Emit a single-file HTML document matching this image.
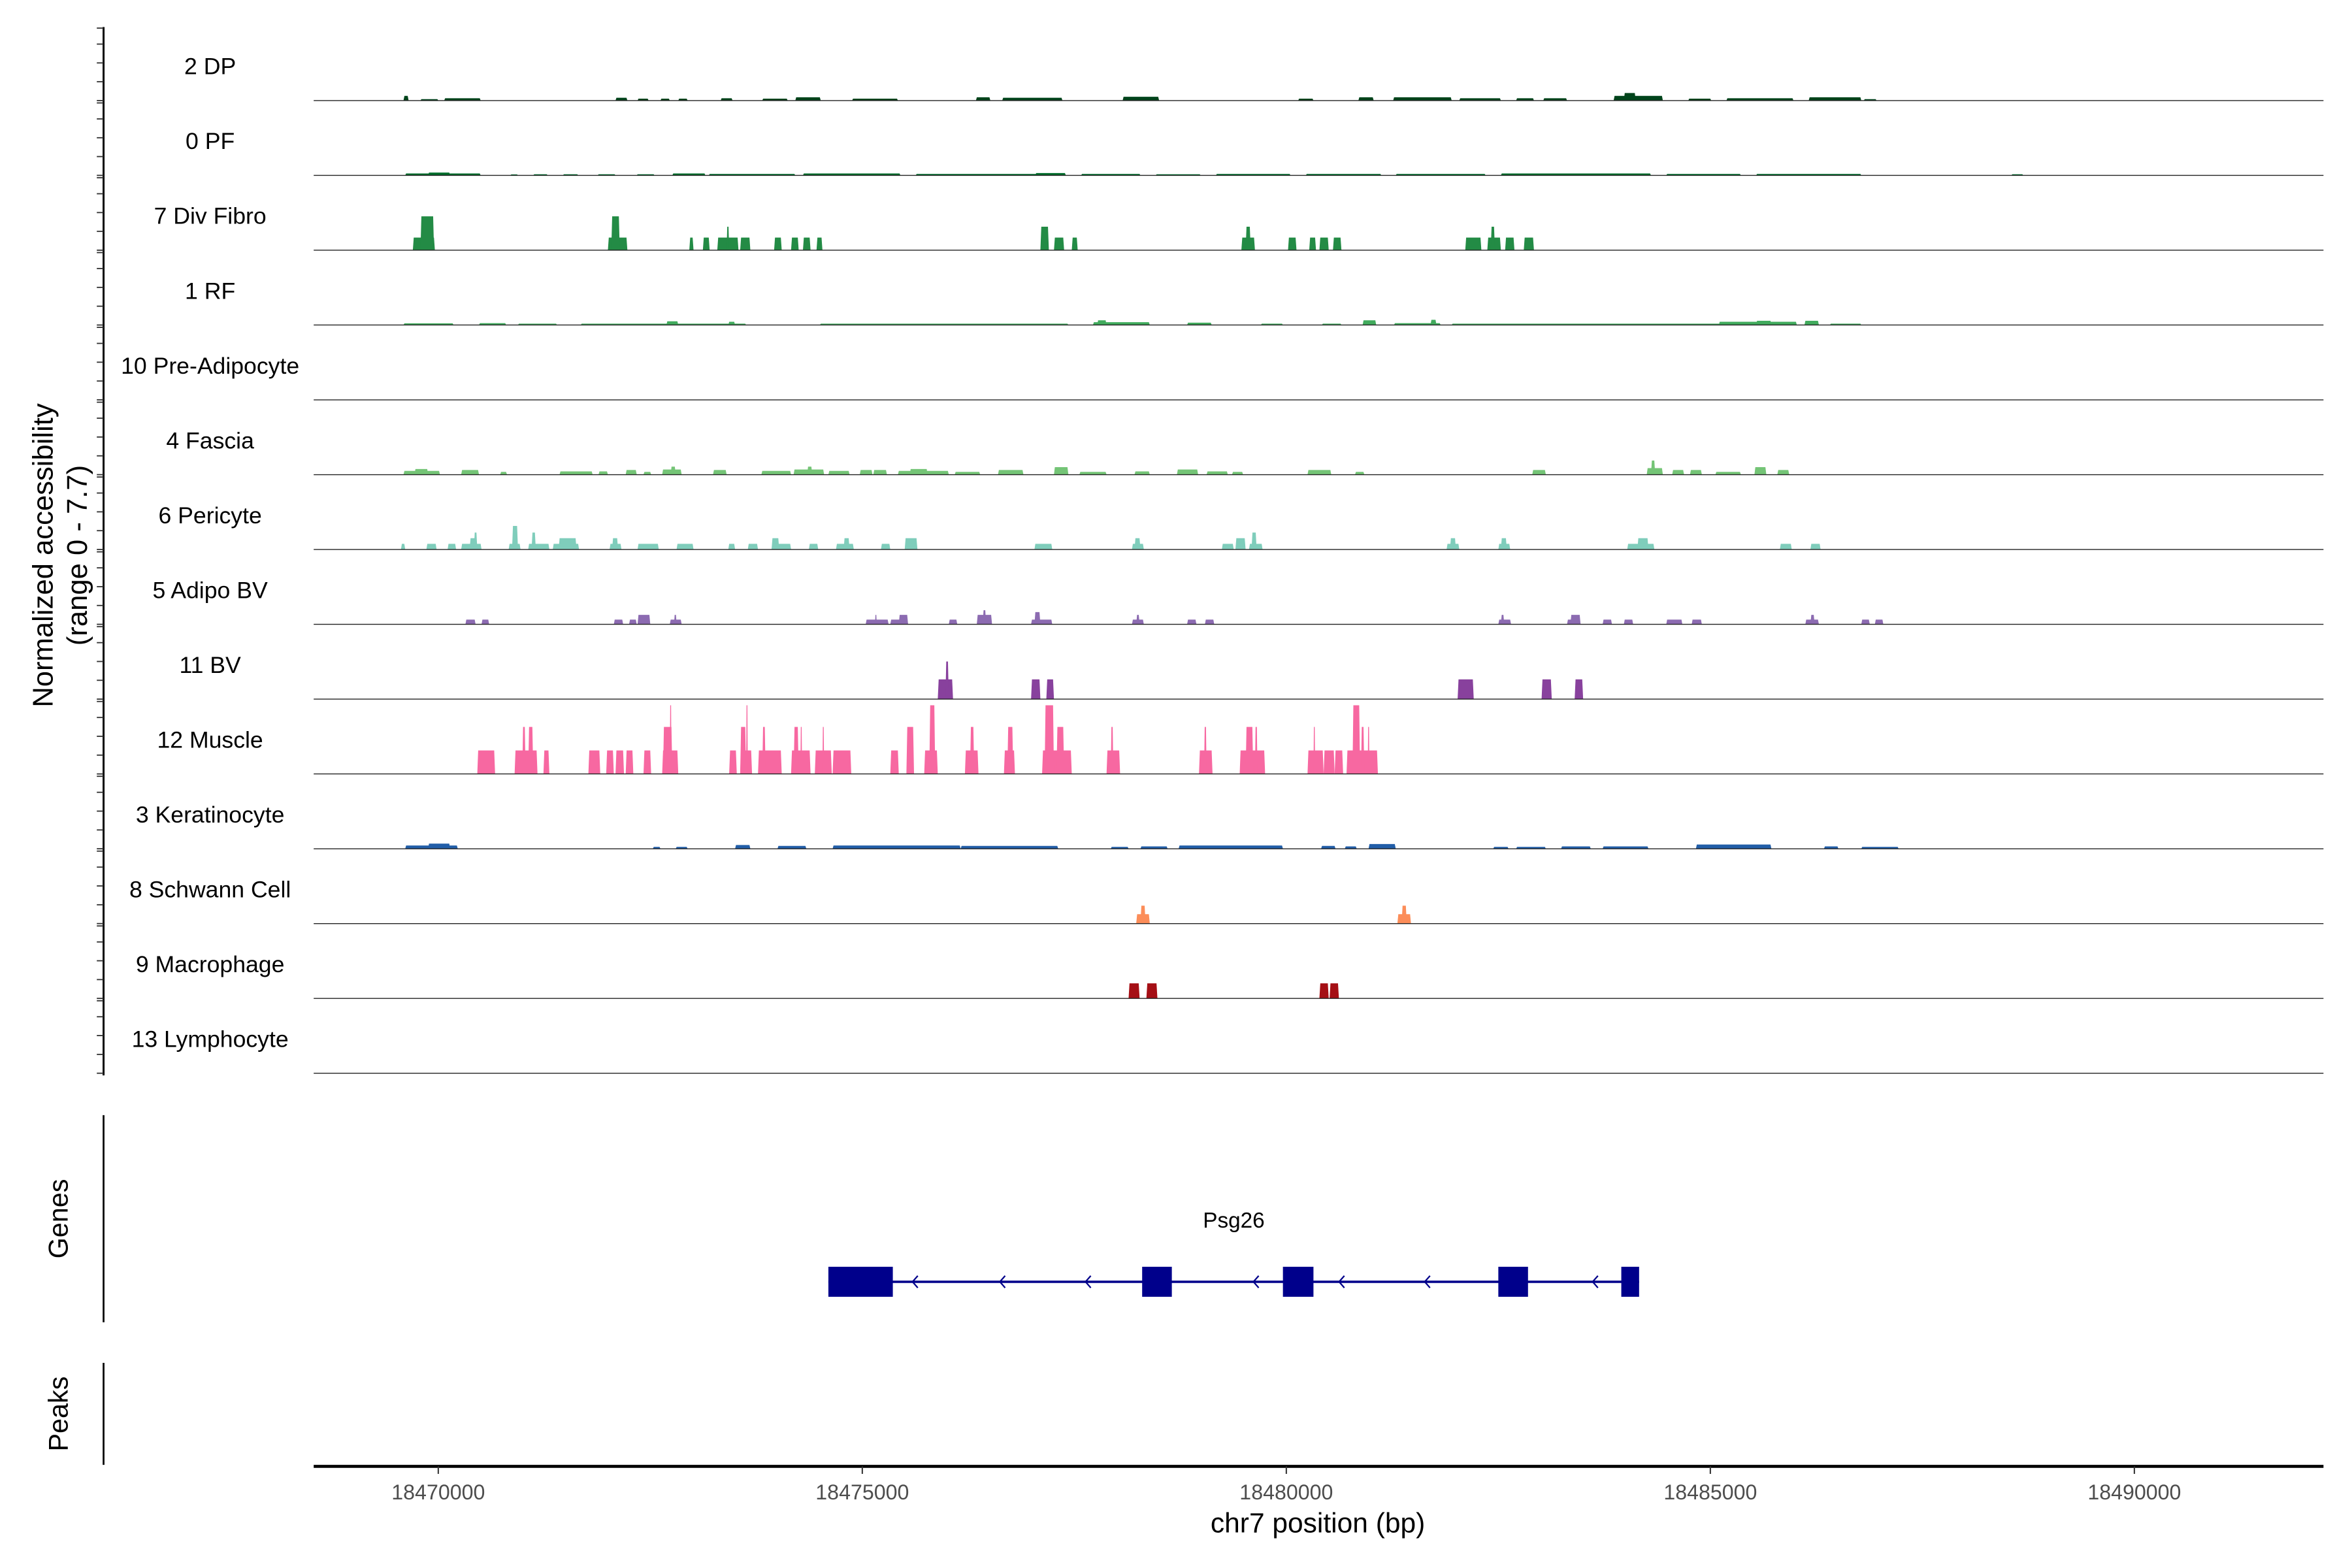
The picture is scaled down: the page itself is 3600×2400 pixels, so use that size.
<!DOCTYPE html>
<html><head><meta charset="utf-8"><style>
html,body{margin:0;padding:0;background:#fff;}
svg{display:block;font-family:"Liberation Sans",Arial,sans-serif;}
</style></head><body>
<svg id="chart" width="3600" height="2400" viewBox="0 0 1567 1044.7" preserveAspectRatio="none" xmlns="http://www.w3.org/2000/svg">
<g id="tracks"></g>
<g id="yaxis"></g>
<text transform="translate(35,370) rotate(-90)" text-anchor="middle" font-size="19" fill="#000">Normalized accessibility</text>
<text transform="translate(58,370) rotate(-90)" text-anchor="middle" font-size="19" fill="#000">(range 0 - 7.7)</text>
<line x1="69" y1="743" x2="69" y2="881" stroke="#000" stroke-width="1.2"/>
<text transform="translate(45,812) rotate(-90)" text-anchor="middle" font-size="18" fill="#000">Genes</text>
<line x1="69" y1="908" x2="69" y2="976" stroke="#000" stroke-width="1.2"/>
<text transform="translate(45,942) rotate(-90)" text-anchor="middle" font-size="18" fill="#000">Peaks</text>
<g id="gene"></g>
<g id="xaxis"></g>
<text x="878" y="1021" text-anchor="middle" font-size="18.5" fill="#000">chr7 position (bp)</text>
</svg>
<script>
// positions in kb offset from 18,470,000; values in normalized accessibility
const regionStart = 18470000;
const trackNames = ["2 DP","0 PF","7 Div Fibro","1 RF","10 Pre-Adipocyte","4 Fascia","6 Pericyte","5 Adipo BV","11 BV","12 Muscle","3 Keratinocyte","8 Schwann Cell","9 Macrophage","13 Lymphocyte"];
const trackColors = ["#00441b","#006d2c","#238b45","#41ab5d","#74c476","#74c476","#7fcdbb","#8c6bb1","#88419d","#f768a1","#225ea8","#fc8d59","#a50f15","#6a51a3"];
const xTicks = [18470000,18475000,18480000,18485000,18490000];
const yTickValues = [0,2,4,6,7.7];
const dpPeaks = [[-0.41,-0.35,0.5],[-0.21,0.0,0.15],[0.07,0.5,0.25],[2.09,2.23,0.3],[2.35,2.48,0.2],[2.62,2.73,0.2],[2.83,2.94,0.2],[3.33,3.47,0.25],[3.82,4.12,0.2],[4.21,4.51,0.35],[4.88,5.42,0.2],[6.34,6.51,0.35],[6.65,7.36,0.3],[8.07,8.5,0.4],[10.14,10.32,0.2],[10.85,11.03,0.35],[11.26,11.95,0.35],[12.04,12.53,0.25],[12.71,12.92,0.25],[13.03,13.31,0.25],[13.86,14.44,0.5],[13.98,14.12,0.8],[14.74,15.01,0.2],[15.19,15.98,0.25],[16.16,16.78,0.35],[16.81,16.96,0.15]];
const pfPeaks = [[-0.39,0.5,0.2],[-0.12,0.14,0.3],[0.85,0.94,0.1],[1.12,1.29,0.12],[1.47,1.65,0.12],[1.88,2.09,0.12],[2.34,2.55,0.12],[2.76,3.15,0.2],[3.19,4.21,0.15],[4.3,5.45,0.2],[5.63,7.22,0.15],[7.04,7.4,0.25],[7.58,8.28,0.15],[8.46,8.99,0.12],[9.17,10.05,0.15],[10.23,11.12,0.15],[11.29,12.35,0.15],[12.53,14.3,0.2],[14.48,15.36,0.15],[15.54,16.78,0.15],[18.55,18.69,0.12]];
const divFibroPeaks = [[-0.3,-0.04,1.34],[-0.21,-0.05,3.6],[2.0,2.23,1.34],[2.04,2.14,3.6],[2.96,3.01,1.34],[3.12,3.2,1.34],[3.29,3.54,1.34],[3.4,3.43,2.5],[3.56,3.68,1.34],[3.96,4.05,1.34],[4.16,4.25,1.34],[4.3,4.39,1.34],[4.46,4.53,1.34],[7.1,7.2,2.5],[7.26,7.38,1.34],[7.47,7.54,1.34],[9.47,9.63,1.34],[9.52,9.58,2.5],[10.02,10.12,1.34],[10.27,10.35,1.34],[10.39,10.5,1.34],[10.55,10.65,1.34],[12.11,12.3,1.34],[12.37,12.53,1.34],[12.41,12.46,2.5],[12.58,12.69,1.34],[12.8,12.92,1.34]];
const rfPeaks = [[-0.41,0.18,0.18],[0.48,0.8,0.2],[0.94,1.4,0.15],[1.68,3.63,0.15],[2.69,2.83,0.4],[3.42,3.5,0.35],[4.5,7.43,0.15],[7.72,8.39,0.3],[7.77,7.88,0.5],[8.83,9.12,0.25],[9.7,9.96,0.15],[10.42,10.65,0.15],[10.9,11.06,0.5],[11.27,11.82,0.2],[11.7,11.77,0.55],[11.95,16.02,0.15],[15.1,16.02,0.35],[15.54,15.72,0.45],[16.11,16.28,0.45],[16.41,16.78,0.15]];
const preAdipoPeaks = [];
const fasciaPeaks = [[-0.41,0.02,0.4],[-0.28,-0.12,0.6],[0.27,0.48,0.5],[0.73,0.81,0.3],[1.43,1.82,0.35],[1.89,2.0,0.35],[2.21,2.34,0.5],[2.42,2.51,0.3],[2.64,2.87,0.55],[2.74,2.8,0.85],[3.24,3.4,0.5],[3.81,4.16,0.4],[4.19,4.55,0.55],[4.35,4.41,0.85],[4.6,4.85,0.4],[4.97,5.12,0.5],[5.13,5.29,0.5],[5.42,6.02,0.4],[5.56,5.77,0.6],[6.09,6.39,0.3],[6.6,6.9,0.5],[7.26,7.43,0.8],[7.56,7.88,0.3],[8.21,8.39,0.35],[8.71,8.96,0.55],[9.06,9.31,0.35],[9.36,9.49,0.3],[10.25,10.53,0.5],[10.81,10.92,0.3],[12.9,13.06,0.5],[14.25,14.44,0.7],[14.3,14.35,1.5],[14.55,14.69,0.5],[14.76,14.9,0.5],[15.06,15.36,0.3],[15.52,15.66,0.8],[15.79,15.93,0.5]];
const pericytePeaks = [[-0.44,-0.39,0.6],[-0.14,-0.02,0.6],[0.11,0.21,0.6],[0.27,0.51,0.6],[0.37,0.46,1.2],[0.42,0.46,1.8],[0.83,0.97,0.6],[0.87,0.94,2.5],[1.06,1.31,0.6],[1.1,1.15,1.8],[1.35,1.66,0.6],[1.42,1.63,1.2],[2.02,2.16,0.6],[2.05,2.12,1.2],[2.35,2.6,0.6],[2.81,3.01,0.6],[3.42,3.5,0.6],[3.65,3.77,0.6],[3.93,4.16,0.6],[3.93,4.02,1.2],[4.37,4.48,0.6],[4.69,4.9,0.6],[4.78,4.85,1.2],[5.22,5.33,0.6],[5.5,5.65,1.2],[7.03,7.24,0.6],[8.18,8.32,0.6],[8.21,8.28,1.2],[9.24,9.38,0.6],[9.4,9.52,1.2],[9.56,9.72,0.6],[9.59,9.65,1.8],[11.89,12.04,0.6],[11.93,12.0,1.2],[12.5,12.64,0.6],[12.53,12.6,1.2],[14.02,14.34,0.6],[14.14,14.27,1.2],[15.82,15.96,0.6],[16.18,16.3,0.6]];
const adipoBvPeaks = [[0.32,0.44,0.5],[0.51,0.6,0.5],[2.07,2.18,0.5],[2.25,2.34,0.5],[2.35,2.5,1.0],[2.73,2.87,0.5],[2.78,2.81,1.0],[5.04,5.31,0.5],[5.15,5.17,1.0],[5.33,5.54,0.5],[5.43,5.54,1.0],[6.02,6.12,0.5],[6.35,6.53,1.0],[6.42,6.46,1.5],[6.99,7.24,0.5],[7.03,7.1,1.3],[8.18,8.32,0.5],[8.23,8.27,1.0],[8.83,8.94,0.5],[9.04,9.15,0.5],[12.5,12.65,0.5],[12.53,12.57,1.0],[13.31,13.47,0.5],[13.35,13.47,1.0],[13.73,13.84,0.5],[13.98,14.09,0.5],[14.48,14.67,0.5],[14.78,14.9,0.5],[16.12,16.28,0.5],[16.18,16.23,1.0],[16.78,16.88,0.5],[16.94,17.04,0.5]];
const bvPeaks = [[5.89,6.07,2.1],[5.98,6.02,4.0],[6.99,7.1,2.1],[7.17,7.26,2.1],[12.02,12.21,2.1],[13.01,13.13,2.1],[13.4,13.5,2.1]];
const musclePeaks = [[0.46,0.67,2.5],[0.9,1.17,2.5],[0.99,1.03,5.0],[1.06,1.12,5.0],[1.24,1.31,2.5],[1.77,1.91,2.5],[1.98,2.07,2.5],[2.09,2.19,2.5],[2.21,2.3,2.5],[2.42,2.51,2.5],[2.64,2.83,2.5],[2.65,2.76,5.0],[2.73,2.75,7.3],[3.43,3.52,2.5],[3.56,3.7,2.5],[3.56,3.63,5.0],[3.63,3.65,7.3],[3.77,4.05,2.5],[3.82,3.86,5.0],[4.16,4.39,2.5],[4.19,4.25,5.0],[4.27,4.29,5.0],[4.44,4.64,2.5],[4.53,4.55,5.0],[4.65,4.87,2.5],[5.33,5.43,2.5],[5.52,5.61,5.0],[5.73,5.89,2.5],[5.79,5.86,7.3],[6.21,6.37,2.5],[6.27,6.32,5.0],[6.67,6.8,2.5],[6.71,6.78,5.0],[7.12,7.47,2.5],[7.15,7.26,7.3],[7.29,7.38,5.0],[7.88,8.04,2.5],[7.93,7.96,5.0],[8.97,9.13,2.5],[9.03,9.06,5.0],[9.45,9.75,2.5],[9.52,9.61,5.0],[9.63,9.66,5.0],[10.25,10.44,2.5],[10.32,10.34,5.0],[10.44,10.57,2.5],[10.57,10.67,2.5],[10.71,11.08,2.5],[10.78,10.87,7.3],[10.88,10.92,5.0],[10.96,10.98,5.0]];
const keratinocytePeaks = [[-0.39,0.23,0.35],[-0.12,0.14,0.55],[2.53,2.62,0.2],[2.8,2.94,0.2],[3.5,3.68,0.4],[4.0,4.34,0.3],[4.65,6.16,0.35],[6.16,7.31,0.3],[7.93,8.14,0.2],[8.28,8.6,0.25],[8.73,9.96,0.35],[10.41,10.58,0.3],[10.69,10.83,0.25],[10.97,11.29,0.5],[12.44,12.62,0.2],[12.71,13.06,0.2],[13.24,13.59,0.25],[13.73,14.27,0.25],[14.83,15.72,0.45],[16.34,16.51,0.25],[16.78,17.22,0.2]];
const schwannPeaks = [[8.23,8.39,1.0],[8.28,8.34,1.9],[11.31,11.47,1.0],[11.36,11.42,1.9]];
const macrophagePeaks = [[8.14,8.27,1.6],[8.35,8.48,1.6],[10.39,10.5,1.6],[10.51,10.62,1.6]];
const lymphocytePeaks = [];
const exonStarts = [4.6,8.3,9.96,12.5,13.95];
const exonEnds = [5.36,8.65,10.32,12.85,14.16];
const geneRange = [4.6,14.16];
const arrowPositions = [5.61,6.64,7.65,9.63,10.64,11.65,13.63];

const allPeaks = [dpPeaks,pfPeaks,divFibroPeaks,rfPeaks,preAdipoPeaks,fasciaPeaks,pericytePeaks,adipoBvPeaks,bvPeaks,musclePeaks,keratinocytePeaks,schwannPeaks,macrophagePeaks,lymphocytePeaks];

const NS='http://www.w3.org/2000/svg';
function xs(kb){return 292 + kb*56.5;}
function xbp(bp){return xs((bp-regionStart)/1000);}
const yUnit = 6.27;
function baseY(i){return 67 + i*49.85;}
function mk(tag,attrs,parent){const e=document.createElementNS(NS,tag);for(const k in attrs)e.setAttribute(k,attrs[k]);parent.appendChild(e);return e;}

const tg=document.getElementById('tracks');
allPeaks.forEach((peaks,i)=>{
  const g=mk('g',{},tg);
  
  
  const b=baseY(i);
  const lab=mk('text',{x:140,y:b-17.5,'text-anchor':'middle','font-size':15.5,fill:'#000'},g);
  lab.textContent=trackNames[i];
  
  
  peaks.forEach(p=>{
    const x1=xs(p[0]),x2=xs(p[1]),h=p[2]*yUnit;
    const sl=Math.min(0.6,(x2-x1)/4);
    const pg=mk('polygon',{points:`${x1},${b} ${x1+sl},${b-h} ${x2-sl},${b-h} ${x2},${b}`,fill:trackColors[i]},g);
    
    
  });
  const bl=mk('line',{x1:209,x2:1548,y1:b,y2:b,stroke:'#222','stroke-width':0.6},g);
  
  
});

const ya=document.getElementById('yaxis');
const al=mk('line',{x1:69,x2:69,y1:18,y2:716.5,stroke:'#000','stroke-width':1.3},ya);


for(let i=0;i<trackNames.length;i++){
  yTickValues.forEach(v=>{
    const y=baseY(i)-v*yUnit;
    const t=mk('line',{x1:64.5,x2:69,y1:y,y2:y,stroke:'#333','stroke-width':0.8},ya);
    
    
  });
}

const gg=document.getElementById('gene');
const gl=mk('line',{x1:xs(geneRange[0]),x2:xs(geneRange[1]),y1:854,y2:854,stroke:'#00008b','stroke-width':1.6},gg);


arrowPositions.forEach(a=>{
  const x=xs(a);
  const pl=mk('polyline',{points:`${x+2.5},850 ${x-1},854 ${x+2.5},858`,fill:'none',stroke:'#00008b','stroke-width':1},gg);
  
  
});
exonStarts.forEach((s,k)=>{
  const r=mk('rect',{x:xs(s),y:844,width:xs(exonEnds[k])-xs(s),height:20,fill:'#00008b'},gg);
  
  
});
const gn=mk('text',{x:822,y:818,'text-anchor':'middle','font-size':14.5,fill:'#000'},gg);
gn.textContent='Psg26';



const xa=document.getElementById('xaxis');
const xl=mk('line',{x1:209,x2:1548,y1:977,y2:977,stroke:'#000','stroke-width':2},xa);


xTicks.forEach(t=>{
  const x=xbp(t);
  const tl=mk('line',{x1:x,x2:x,y1:977,y2:982,stroke:'#333','stroke-width':0.9},xa);
  
  
  const tx=mk('text',{x:x,y:999,'text-anchor':'middle','font-size':14,fill:'#4d4d4d'},xa);
  tx.textContent=String(t);
  
  
});
</script>
</body></html>
